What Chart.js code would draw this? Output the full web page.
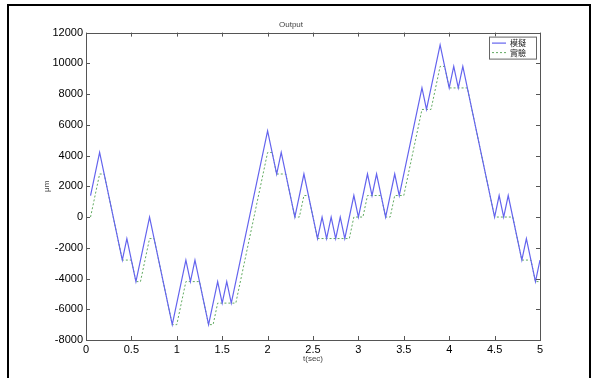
<!DOCTYPE html>
<html>
<head>
<meta charset="utf-8">
<script src="https://cdn.jsdelivr.net/npm/chart.js@4.4.0/dist/chart.umd.min.js"></script>
<style>
  html, body { margin: 0; padding: 0; background: #fff; overflow: hidden; }
  #wrap { position: relative; width: 598px; height: 378px; }
  #frame { position: absolute; left: 7px; top: 4px; width: 584px; height: 420px;
           border: 2px solid #000; box-sizing: border-box; pointer-events: none; }
</style>
</head>
<body>
<div id="wrap">
  <canvas id="chartOutput" width="598" height="378"></canvas>
  <div id="frame"></div>
</div>
<script>
/* Output : simulation (blue, solid) vs experiment (green, dotted) */
var simTime = [0.05, 0.15, 0.40, 0.45, 0.55, 0.70, 0.95, 1.10, 1.15, 1.20, 1.35, 1.45, 1.50, 1.55, 1.60,
               2.00, 2.10, 2.15, 2.30, 2.40, 2.55, 2.60, 2.65, 2.70, 2.75, 2.80, 2.85, 2.95, 3.00,
               3.10, 3.15, 3.20, 3.30, 3.40, 3.45, 3.70, 3.75, 3.90, 4.00, 4.05, 4.10, 4.15,
               4.50, 4.55, 4.60, 4.65, 4.80, 4.85, 4.95, 5.00];
var simValue = [1400, 4200, -2800, -1400, -4200, 0, -7000, -2800, -4200, -2800, -7000, -4200, -5600, -4200, -5600,
                5600, 2800, 4200, 0, 2800, -1400, 0, -1400, 0, -1400, 0, -1400, 1400, 0,
                2800, 1400, 2800, 0, 2800, 1400, 8400, 7000, 11200, 8400, 9800, 8400, 9800,
                0, 1400, 0, 1400, -2800, -1400, -4200, -2800];

var expTime = [0.05, 0.15, 0.20, 0.40, 0.50, 0.55, 0.60, 0.70, 0.75, 0.95, 1.00, 1.10, 1.25, 1.35, 1.40, 1.45, 1.65,
               2.00, 2.05, 2.10, 2.20, 2.30, 2.35, 2.40, 2.45, 2.55, 2.90, 2.95, 3.05, 3.10, 3.25, 3.30,
               3.35, 3.40, 3.50, 3.70, 3.80, 3.90, 3.95, 4.00, 4.20, 4.50, 4.70, 4.80, 4.90, 4.95, 5.00];
var expValue = [0, 2800, 2800, -2800, -2800, -4200, -4200, -1400, -1400, -7000, -7000, -4200, -4200, -7000, -7000, -5600, -5600,
                4200, 4200, 2800, 2800, 0, 0, 1400, 1400, -1400, -1400, 0, 0, 1400, 1400, 0,
                0, 1400, 1400, 7000, 7000, 9800, 9800, 8400, 8400, 0, 0, -2800, -2800, -4200, -4200];

var seriesNames = ['模擬', '實驗'];
var xLimits = [0, 5];
var yLimits = [-8000, 12000];

var colors = { sim: '#6464ee', exp: '#62aa62', axis: '#555' };
var font = "Arial, 'Liberation Sans', Helvetica, sans-serif";

function toPoints(xs, ys) {
  return xs.map(function (x, i) { return { x: x, y: ys[i] }; });
}

// MATLAB-like box: inward ticks on all four sides + legend in the top-right corner
var matlabBox = {
  id: 'matlabBox',
  afterDatasetsDraw: function (chart) {
    var ctx = chart.ctx, a = chart.chartArea;
    var xs = chart.scales.x, ys = chart.scales.y;
    ctx.save();
    ctx.strokeStyle = colors.axis;
    ctx.lineWidth = 1;
    ctx.strokeRect(Math.round(a.left) + 0.5, Math.round(a.top) + 0.5,
                   Math.round(a.right - a.left), Math.round(a.bottom - a.top));
    ctx.beginPath();
    xs.ticks.forEach(function (t) {
      var px = Math.round(xs.getPixelForValue(t.value)) + 0.5;
      ctx.moveTo(px, a.bottom); ctx.lineTo(px, a.bottom - 4);
      ctx.moveTo(px, a.top); ctx.lineTo(px, a.top + 4);
    });
    ys.ticks.forEach(function (t) {
      var py = Math.round(ys.getPixelForValue(t.value)) + 0.5;
      ctx.moveTo(a.left, py); ctx.lineTo(a.left + 4, py);
      ctx.moveTo(a.right, py); ctx.lineTo(a.right - 4, py);
    });
    ctx.stroke();

    // legend
    var bx = a.right - 51, by = a.top + 4, bw = 47, bh = 22;
    ctx.fillStyle = '#fff';
    ctx.fillRect(bx, by, bw, bh);
    ctx.strokeStyle = '#666';
    ctx.strokeRect(bx + 0.5, by + 0.5, bw, bh);
    var ds = chart.data.datasets;
    ds.forEach(function (d, i) {
      var ly = by + 6.5 + i * 9.5;
      ctx.strokeStyle = d.borderColor;
      ctx.lineWidth = d.borderWidth;
      ctx.setLineDash(d.borderDash || []);
      ctx.beginPath();
      ctx.moveTo(bx + 3, ly); ctx.lineTo(bx + 17, ly);
      ctx.stroke();
      ctx.setLineDash([]);
      ctx.fillStyle = '#222';
      ctx.font = "8px 'Noto Sans CJK TC', sans-serif";
      ctx.textBaseline = 'middle';
      ctx.fillText(d.label, bx + 21, ly);
    });
    ctx.restore();
  }
};

new Chart(document.getElementById('chartOutput'), {
  type: 'line',
  data: {
    datasets: [
      { label: seriesNames[0], data: toPoints(simTime, simValue), borderColor: colors.sim,
        borderWidth: 1.2, pointRadius: 0, tension: 0, fill: false },
      { label: seriesNames[1], data: toPoints(expTime, expValue), borderColor: colors.exp,
        borderWidth: 1, borderDash: [2, 2], pointRadius: 0, tension: 0, fill: false }
    ]
  },
  options: {
    responsive: false,
    animation: false,
    layout: { padding: { left: 42, right: 58, top: 0, bottom: 14 } },
    plugins: {
      legend: { display: false },
      tooltip: { enabled: false },
      title: { display: true, text: 'Output', color: '#444',
               font: { family: font, size: 8, weight: 'normal' }, padding: { top: 20, bottom: 3 } }
    },
    scales: {
      x: {
        type: 'linear', min: xLimits[0], max: xLimits[1],
        grid: { display: false, drawTicks: false }, border: { display: false },
        ticks: { stepSize: 0.5, color: '#000', padding: 3, maxRotation: 0,
                 font: { family: font, size: 11 }, callback: function (v) { return String(v); } },
        title: { display: true, text: 't(sec)', color: '#444', padding: 0,
                 font: { family: font, size: 8 } },
        afterFit: function (s) { s.height = 24; }
      },
      y: {
        min: yLimits[0], max: yLimits[1],
        grid: { display: false, drawTicks: false }, border: { display: false },
        ticks: { stepSize: 2000, color: '#000', padding: 3,
                 font: { family: font, size: 11 }, callback: function (v) { return String(v); } },
        title: { display: true, text: 'μm', color: '#444', padding: 0,
                 font: { family: font, size: 8 } },
        afterFit: function (s) { s.width = 44; }
      }
    }
  },
  plugins: [matlabBox]
});
</script>
</body>
</html>
